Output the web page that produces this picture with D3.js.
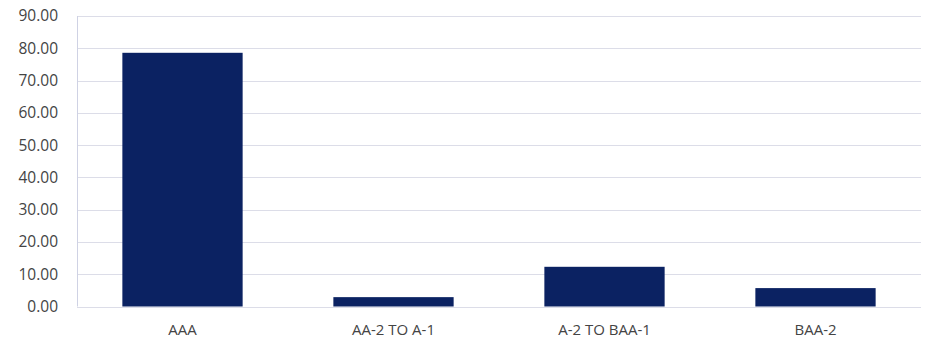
<!DOCTYPE html>
<html>
<head>
<meta charset="utf-8">
<script src="https://cdn.jsdelivr.net/npm/d3@7"></script>
<style>
  html, body { margin: 0; padding: 0; background: #ffffff; }
  svg { display: block; }
  text { font-family: "Open Sans", "Noto Sans", sans-serif; fill: #444444; }
</style>
</head>
<body>
<svg id="chart" width="937" height="340"></svg>
<script>
// Rating buckets and their shares
const categories = ["AAA", "AA-2 TO A-1", "A-2 TO BAA-1", "BAA-2"];
const values = [78.6, 2.9, 12.3, 5.7];
const yTicks = [0, 10, 20, 30, 40, 50, 60, 70, 80, 90];

const W = 937, H = 340;
const margin = { top: 16, right: 16, bottom: 34, left: 77 };
const svg = d3.select("#chart");

const x = d3.scaleBand()
  .domain(categories)
  .range([margin.left, W - margin.right])
  .paddingInner(0.43)
  .paddingOuter(0.215);

const y = d3.scaleLinear()
  .domain([0, 90])
  .range([H - margin.bottom + 0.5, margin.top]);

// Horizontal gridlines
svg.append("g")
  .selectAll("line")
  .data(yTicks)
  .join("line")
  .attr("x1", margin.left)
  .attr("x2", W - margin.right)
  .attr("y1", d => Math.round(y(d)) + 0.5)
  .attr("y2", d => Math.round(y(d)) + 0.5)
  .attr("stroke", "#dcdde8")
  .attr("stroke-width", 1);

// Left edge of the plot area
svg.append("line")
  .attr("x1", margin.left + 0.5)
  .attr("x2", margin.left + 0.5)
  .attr("y1", y(90))
  .attr("y2", y(0))
  .attr("stroke", "#cfd2e4");

// Bars
svg.append("g")
  .selectAll("rect")
  .data(values)
  .join("rect")
  .attr("x", (d, i) => x(categories[i]))
  .attr("width", x.bandwidth())
  .attr("y", d => y(d))
  .attr("height", d => y(0) - y(d))
  .attr("fill", "#0b2262");

// Y axis labels
const yAxis = d3.axisLeft(y)
  .tickValues(yTicks)
  .tickFormat(d3.format(".2f"))
  .tickSize(0)
  .tickPadding(19);
svg.append("g")
  .attr("transform", `translate(${margin.left},0)`)
  .call(yAxis)
  .call(g => g.select(".domain").remove())
  .call(g => g.selectAll("text").style("font-size", "15.5px").attr("fill", "#444444"));

// X axis labels
const xAxis = d3.axisBottom(x).tickSize(0).tickPadding(17.5);
svg.append("g")
  .attr("transform", `translate(0,${y(0)})`)
  .call(xAxis)
  .call(g => g.select(".domain").remove())
  .call(g => g.selectAll("text").style("font-size", "15px").attr("fill", "#444444"));
</script>
</body>
</html>
